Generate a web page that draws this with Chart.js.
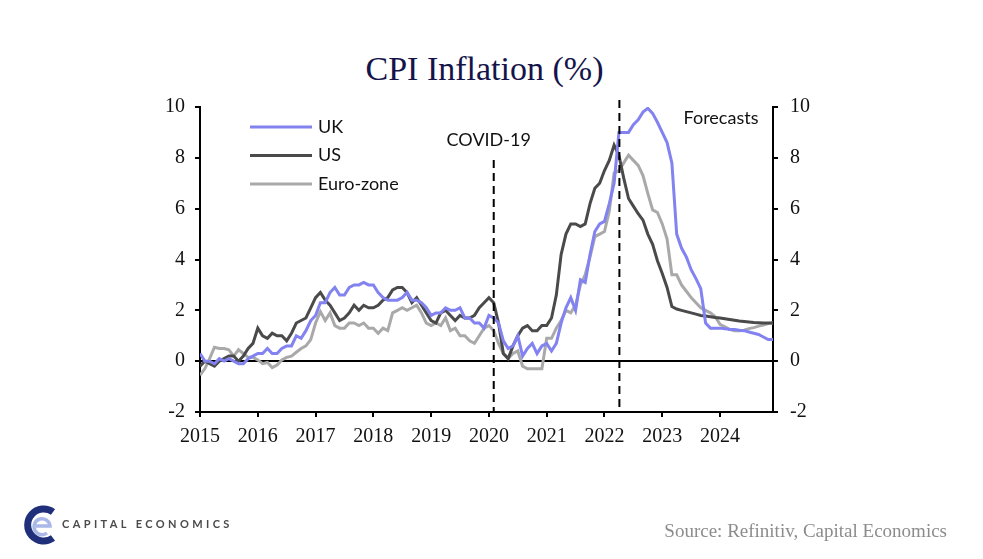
<!DOCTYPE html>
<html lang="en">

<head>
  <meta charset="UTF-8" />
  <title>CPI Inflation (%)</title>
  <style>
    * {
      margin: 0;
      padding: 0;
      box-sizing: border-box;
    }

    body {
      background-color: #fff;
      width: 983px;
      height: 559px;
      overflow: hidden;
      position: relative;
    }

    #chart {
      position: absolute;
      left: 0;
      top: 0;
    }

    .title {
      position: absolute;
      left: 0;
      width: 969px;
      top: 49px;
      text-align: center;
      font-family: 'Liberation Serif', serif;
      font-size: 34px;
      line-height: 40px;
      color: #14144a;
    }

    .logo {
      position: absolute;
      left: 22px;
      top: 503px;
    }

    .brand {
      position: absolute;
      left: 62px;
      top: 517px;
      font-family: Lato, sans-serif;
      font-weight: 700;
      font-size: 11px;
      letter-spacing: 3.4px;
      color: #4a4a4a;
    }

    .source {
      position: absolute;
      right: 36px;
      top: 520px;
      font-family: 'Liberation Serif', serif;
      font-size: 19px;
      color: #8c8c8c;
    }
  </style>
</head>

<body>
  <div class="title">CPI Inflation (%)</div>
  <canvas id="chart" width="983" height="559"></canvas>

  <svg class="logo" width="40" height="44" viewBox="0 0 40 44">
    <path d="M31 9 A16 16 0 1 0 31 35" fill="none" stroke="#1f2f7a" stroke-width="7" />
    <path d="M14 23 L28 23 A8 8 0 1 0 25 30" fill="none" stroke="#a9b8e6" stroke-width="3.5" />
  </svg>
  <div class="brand">CAPITAL ECONOMICS</div>
  <div class="source">Source: Refinitiv, Capital Economics</div>

  <script src="https://cdn.jsdelivr.net/npm/chart.js"></script>

  <script>
    // monthly series, Jan 2015 - Dec 2024
    const yearLabels = ['2015', '2016', '2017', '2018', '2019', '2020', '2021', '2022', '2023', '2024'];
    const yTicks = [-2, 0, 2, 4, 6, 8, 10];

    const ukCpi = [
      0.3, 0.0, 0.0, -0.1, 0.1, 0.0, 0.1, 0.0, -0.1, -0.1, 0.1, 0.2,
      0.3, 0.3, 0.5, 0.3, 0.3, 0.5, 0.6, 0.6, 1.0, 0.9, 1.2, 1.6,
      1.8, 2.3, 2.3, 2.7, 2.9, 2.6, 2.6, 2.9, 3.0, 3.0, 3.1, 3.0,
      3.0, 2.7, 2.5, 2.4, 2.4, 2.4, 2.5, 2.7, 2.4, 2.4, 2.3, 2.1,
      1.8, 1.9, 1.9, 2.1, 2.0, 2.0, 2.1, 1.7, 1.7, 1.5, 1.5, 1.3,
      1.8, 1.7, 1.5, 0.8, 0.5, 0.6, 1.0, 0.2, 0.5, 0.7, 0.3, 0.6,
      0.7, 0.4, 0.7, 1.5, 2.1, 2.5, 2.0, 3.2, 3.1, 4.2, 5.1, 5.4,
      5.5, 6.2, 7.0, 9.0, 9.0, 9.0, 9.3, 9.5, 9.8, 9.95, 9.75, 9.4,
      9.0, 8.6, 7.8, 5.0, 4.45, 4.1, 3.6, 3.25, 2.85, 1.5, 1.3, 1.3,
      1.3, 1.28, 1.25, 1.25, 1.22, 1.2, 1.15, 1.1, 1.05, 0.95, 0.85, 0.85
    ];

    const usCpi = [
      -0.2, 0.0, -0.1, -0.2, 0.0, 0.1, 0.2, 0.2, 0.0, 0.2, 0.5, 0.7,
      1.3, 1.0, 0.9, 1.1, 1.0, 1.0, 0.8, 1.1, 1.5, 1.6, 1.7, 2.1,
      2.5, 2.7, 2.4, 2.2, 1.9, 1.6, 1.7, 1.9, 2.2, 2.0, 2.2, 2.1,
      2.1, 2.2, 2.4, 2.5, 2.8, 2.9, 2.9, 2.7, 2.3, 2.5, 2.2, 1.9,
      1.6, 1.5, 1.9, 2.0, 1.8, 1.6, 1.8, 1.7, 1.7, 1.8, 2.1, 2.3,
      2.5, 2.3, 1.5, 0.3, 0.1, 0.6, 1.0, 1.3, 1.4, 1.2, 1.2, 1.4,
      1.4, 1.7, 2.6, 4.2, 5.0, 5.4, 5.4, 5.3, 5.4, 6.2, 6.8, 7.0,
      7.5, 7.9, 8.5, 8.1, 7.2, 6.4, 6.1, 5.8, 5.55, 5.0, 4.6, 3.95,
      3.45, 2.9, 2.15, 2.05, 2.0, 1.95, 1.9, 1.85, 1.8, 1.78, 1.75, 1.72,
      1.7, 1.67, 1.64, 1.61, 1.58, 1.56, 1.54, 1.52, 1.51, 1.5, 1.5, 1.5
    ];

    const euroCpi = [
      -0.55, -0.3, 0.1, 0.55, 0.5, 0.5, 0.45, 0.2, 0.45, 0.3, 0.15, 0.15,
      0.05, -0.1, -0.05, -0.25, -0.15, 0.05, 0.15, 0.2, 0.35, 0.5, 0.6, 0.85,
      1.5, 1.95, 1.6, 1.9, 1.4, 1.3, 1.3, 1.5, 1.5, 1.4, 1.5, 1.3,
      1.3, 1.1, 1.3, 1.2, 1.9, 2.0, 2.1, 2.0, 2.1, 2.2, 1.9, 1.5,
      1.4, 1.5, 1.4, 1.7, 1.2, 1.3, 1.0, 1.0, 0.8, 0.7, 1.0, 1.3,
      1.4, 1.2, 0.7, 0.3, 0.1, 0.3, 0.4, -0.2, -0.3, -0.3, -0.3, -0.3,
      0.9, 0.9, 1.3, 1.6, 2.0, 1.9, 2.2, 3.0, 3.4, 4.1, 4.9, 5.0,
      5.1, 5.9, 7.4, 7.5, 7.8, 8.1, 7.9, 7.7, 7.3, 6.6, 5.95, 5.85,
      5.4, 4.8, 3.4, 3.4, 3.0, 2.75, 2.5, 2.3, 2.1, 2.0, 1.9, 1.75,
      1.45, 1.35, 1.25, 1.2, 1.2, 1.22, 1.28, 1.32, 1.38, 1.42, 1.48, 1.5
    ];

    // month index of the marker lines (0 = Jan 2015)
    const covidMonth = 61;
    const forecastMonth = 87.1;

    const toPoints = arr => arr.map((v, i) => ({ x: i, y: v }));

    const overlay = {
      id: 'overlay',
      afterDatasetsDraw(chart) {
        const { ctx, chartArea } = chart;
        const x = chart.scales.x;
        ctx.save();

        // dashed marker lines
        ctx.strokeStyle = '#000';
        ctx.lineWidth = 2;
        ctx.setLineDash([8, 5]);
        const covidX = x.getPixelForValue(covidMonth);
        ctx.beginPath();
        ctx.moveTo(covidX, 160);
        ctx.lineTo(covidX, chartArea.bottom);
        ctx.stroke();
        const fcX = x.getPixelForValue(forecastMonth);
        ctx.beginPath();
        ctx.moveTo(fcX, 100);
        ctx.lineTo(fcX, chartArea.bottom);
        ctx.stroke();
        ctx.setLineDash([]);

        ctx.font = '18px Lato';
        ctx.fillStyle = '#111';
        ctx.textBaseline = 'middle';
        ctx.textAlign = 'center';
        ctx.fillText('COVID-19', covidX - 5, 140);
        ctx.fillText('Forecasts', 721, 118);

        // legend
        ctx.textAlign = 'left';
        chart.data.datasets.forEach((ds, i) => {
          const y = 127 + i * 28.5;
          ctx.strokeStyle = ds.borderColor;
          ctx.lineWidth = 3;
          ctx.beginPath();
          ctx.moveTo(250, y);
          ctx.lineTo(312, y);
          ctx.stroke();
          ctx.fillText(ds.label, 318, y);
        });
        ctx.restore();
      }
    };

    const tickFont = { family: 'Liberation Serif', size: 20 };

    new Chart(document.getElementById('chart'), {
      type: 'line',
      data: {
        datasets: [
          { label: 'UK', data: toPoints(ukCpi), borderColor: '#8282f0' },
          { label: 'US', data: toPoints(usCpi), borderColor: '#4a4a4a' },
          { label: 'Euro-zone', data: toPoints(euroCpi), borderColor: '#a9a9a9' }
        ]
      },
      options: {
        responsive: false,
        animation: false,
        layout: { padding: { top: 107, left: 0, right: 0, bottom: 0 } },
        elements: {
          line: { borderWidth: 3, tension: 0 },
          point: { radius: 0 }
        },
        plugins: {
          legend: { display: false },
          tooltip: { enabled: false }
        },
        scales: {
          x: {
            type: 'linear',
            min: 0,
            max: 119,
            afterFit: s => { s.height = 147; },
            afterBuildTicks: s => { s.ticks = yearLabels.map((_, i) => ({ value: i * 12 })); },
            border: { display: true, color: '#000', width: 2 },
            grid: { drawOnChartArea: false, tickLength: 5, color: '#000', lineWidth: 2 },
            ticks: {
              padding: 8,
              maxRotation: 0,
              color: '#111',
              font: tickFont,
              callback: v => yearLabels[v / 12]
            }
          },
          y: {
            position: 'left',
            min: -2,
            max: 10,
            afterFit: s => { s.width = 200; },
            afterBuildTicks: s => { s.ticks = yTicks.map(v => ({ value: v })); },
            border: { display: true, color: '#000', width: 2 },
            grid: {
              drawOnChartArea: true,
              tickLength: 5,
              lineWidth: 2,
              color: c => (c.tick && c.tick.value === 0) ? '#000' : 'rgba(0,0,0,0)',
              tickColor: '#000'
            },
            ticks: { padding: 10, color: '#111', font: tickFont }
          },
          y2: {
            position: 'right',
            min: -2,
            max: 10,
            afterFit: s => { s.width = 210; },
            afterBuildTicks: s => { s.ticks = yTicks.map(v => ({ value: v })); },
            border: { display: true, color: '#000', width: 2 },
            grid: { drawOnChartArea: false, tickLength: 5, lineWidth: 2, color: '#000' },
            ticks: { padding: 12, color: '#111', font: tickFont }
          }
        }
      },
      plugins: [overlay]
    });
  </script>
</body>

</html>
